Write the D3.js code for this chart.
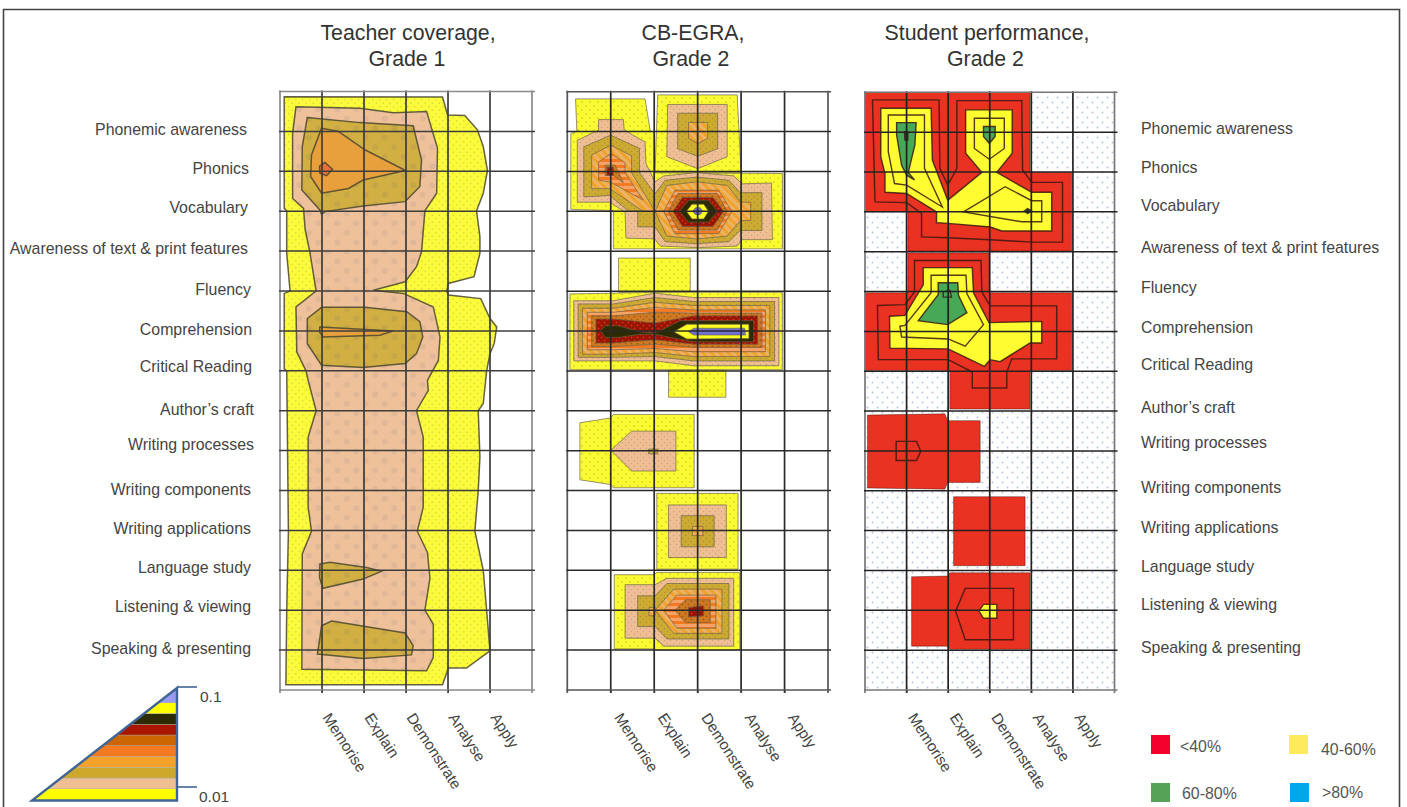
<!DOCTYPE html>
<html><head><meta charset="utf-8">
<script src="https://cdn.jsdelivr.net/npm/d3@7/dist/d3.min.js"></script>
<style>html,body{margin:0;padding:0;background:#fff;overflow:hidden}svg{display:block}text{font-family:"Liberation Sans",Arial,sans-serif}</style>
</head><body><svg id="c" width="1407" height="807"></svg>
<script>
// ---------- DATA (grid units: column = skill position, row = strand position) ----------
const strands = ["Phonemic awareness","Phonics","Vocabulary","Awareness of text & print features","Fluency","Comprehension","Critical Reading","Author’s craft","Writing processes","Writing components","Writing applications","Language study","Listening & viewing","Speaking & presenting"];
const skills = ["Memorise","Explain","Demonstrate","Analyse","Apply"];
const titles = [["Teacher coverage,","Grade 1"],["CB-EGRA,","Grade 2"],["Student performance,","Grade 2"]];
const bandLevels = [0,1,2,3,4,5,6,7,8,9];
const scaleTicks = [0.1,0.01];
const keyLabels = ["<40%","40-60%","60-80%",">80%"];

const teacherContours = [
 [0,[[.10,.13],[3.87,.14],[3.99,.59],[4.40,.60],[4.70,.96],[4.84,1.38],[4.94,1.98],[4.84,2.55],[4.68,2.99],[4.76,3.64],[4.76,4.06],[4.62,4.64],[4.01,4.81],[3.97,5.0],[4.01,5.10],[4.78,5.19],[5.0,5.69],[5.16,5.90],[5.10,6.32],[5.0,6.57],[4.92,7.0],[4.84,7.82],[4.72,8.0],[4.76,9.16],[4.72,10.0],[4.64,11.02],[4.84,12.0],[4.92,13.0],[5.0,14.02],[4.44,14.45],[4.01,14.45],[3.87,14.87],[.14,14.87],[.16,13],[.2,11.02],[.17,8],[.16,7.0],[.10,6.95],[.10,5.06],[.24,5.0],[.16,4.06],[.16,2.99],[.10,2.93]]],
 [1,[[.38,.38],[1.90,.42],[2.70,.53],[3.49,.50],[3.75,1.42],[3.73,2.55],[3.45,2.99],[3.37,4.02],[3.25,4.39],[2.98,4.77],[2.22,4.98],[2.94,5.06],[3.65,5.40],[3.81,6.15],[3.77,6.74],[3.51,7.24],[3.53,7.49],[3.25,8.0],[3.41,8.66],[3.41,10.42],[3.27,11.02],[3.51,11.55],[3.57,12.2],[3.45,13.0],[3.65,13.35],[3.65,14.19],[3.49,14.52],[.52,14.48],[.53,11.59],[.75,11.02],[.67,10.42],[.67,8.66],[.86,8.0],[.67,7.24],[.62,7.0],[.40,6.53],[.38,5.40],[.86,5.0],[.71,4.02],[.60,3.47],[.56,2.93],[.30,2.68],[.30,1.05]]],
 [2,[[.65,.65],[1.90,.78],[3.17,.86],[3.37,1.72],[3.33,2.38],[2.98,2.76],[1.98,2.87],[1.07,3.01],[.99,3.08],[.95,2.97],[.52,2.47],[.53,1.38]]],
 [3,[[.99,.92],[1.39,1.0],[2.02,1.46],[2.99,1.98],[1.98,2.22],[1.63,2.43],[.99,2.55],[.73,2.13],[.75,1.59]]],
 [4,[[.94,1.87],[1.07,1.78],[1.25,1.95],[1.11,2.11],[.95,2.05]]],
 [2,[[.99,5.41],[2.02,5.41],[3.02,5.52],[3.33,5.77],[3.40,6.15],[3.25,6.57],[2.98,6.82],[1.98,6.92],[.99,6.86],[.65,6.32],[.65,5.69]]],
 [3,[[.95,5.90],[2.70,6.0],[2.38,6.11],[1.03,6.15],[.94,6.03]]],
 [2,[[.95,11.84],[1.19,11.80],[2.06,11.93],[2.42,12.02],[1.98,12.22],[1.02,12.45],[.94,12.18]]],
 [2,[[.99,13.39],[1.23,13.27],[2.98,13.57],[3.17,13.89],[3.13,14.12],[1.98,14.21],[.89,14.10],[.94,13.76]]]
];

const egraContours = [
 [0,[[.19,.18],[1.79,.18],[1.91,.99],[2.01,1.01],[2.02,2.03],[4.95,2.05],[4.95,3.94],[1.06,3.94],[1.06,2.98],[.08,2.95],[.08,1.05],[.22,.99]]],
 [0,[[2.08,.08],[3.91,.08],[4.0,2.03],[2.02,2.03]]],
 [1,[[.72,.70],[1.29,.70],[1.31,.96],[1.79,1.26],[1.81,1.80],[2.02,2.26],[2.22,2.11],[2.98,2.03],[3.83,2.11],[4.02,2.31],[4.70,2.29],[4.72,3.71],[4.02,3.71],[3.91,3.87],[3.02,3.91],[2.14,3.87],[2.01,3.69],[1.35,3.67],[1.33,3.02],[.98,2.77],[.23,2.77],[.23,1.22],[.72,.96]]],
 [1,[[2.31,.32],[3.68,.32],[3.68,1.63],[3.0,1.93],[2.29,1.63]]],
 [2,[[2.54,.54],[3.46,.54],[3.46,1.43],[3.0,1.62],[2.54,1.43]]],
 [3,[[2.79,.77],[3.23,.77],[3.23,1.17],[3.0,1.30],[2.79,1.17]]],
 [2,[[.38,1.38],[1.0,1.09],[1.66,1.42],[1.66,2.03],[2.02,2.56],[2.25,2.22],[2.98,2.14],[3.72,2.22],[3.98,2.53],[4.48,2.53],[4.48,3.48],[3.98,3.48],[3.72,3.76],[2.98,3.81],[2.25,3.76],[2.02,3.39],[1.62,3.39],[1.62,3.0],[1.41,3.0],[.98,2.60],[.38,2.64]]],
 [3,[[.56,1.59],[1.0,1.34],[1.48,1.61],[1.48,2.03],[2.02,3.0],[2.29,2.35],[2.98,2.26],[3.68,2.35],[3.98,2.77],[4.22,2.77],[4.22,3.23],[3.98,3.23],[3.68,3.62],[2.98,3.69],[2.29,3.62],[2.02,3.0],[1.75,3.0],[.98,2.43],[.56,2.43]]],
 [4,[[.72,1.76],[1.0,1.55],[1.33,1.78],[1.33,2.03],[1.75,2.72],[.98,2.26],[.72,2.22]]],
 [5,[[.87,1.84],[1.10,1.84],[1.29,2.28],[1.06,2.10],[.87,2.10]]],
 [6,[[.91,1.89],[1.06,1.89],[1.06,2.10],[.91,2.10]]],
 [4,[[2.22,3],[2.48,2.47],[3.48,2.47],[3.79,3],[3.48,3.56],[2.48,3.56]]],
 [5,[[2.32,3],[2.55,2.55],[3.45,2.55],[3.68,3],[3.45,3.47],[2.55,3.47]]],
 [6,[[2.43,3],[2.65,2.65],[3.35,2.65],[3.6,3],[3.35,3.38],[2.65,3.38]]],
 [7,[[2.58,3],[2.79,2.72],[3.25,2.72],[3.46,3],[3.25,3.27],[2.79,3.27]]],
 [8,[[2.74,3],[2.87,2.82],[3.14,2.82],[3.25,3],[3.14,3.19],[2.87,3.19]]],
 [9,[[2.88,3],[2.95,2.91],[3.06,2.91],[3.12,3],[3.06,3.08],[2.95,3.08]]],
 [0,[[1.18,4.17],[2.83,4.17],[2.83,5.03],[1.18,5.03]]],
 [0,[[2.33,6.97],[3.65,6.97],[3.65,7.66],[2.33,7.66]]],
 [0,[[.06,5.07],[2.02,5.03],[4.95,5.03],[4.95,6.97],[.06,6.97]]],
 [1,[[.15,5.24],[1.06,5.24],[2.02,5.05],[2.91,5.16],[4.87,5.16],[4.87,6.87],[2.91,6.87],[2.02,6.75],[1.06,6.75],[.15,6.75]]],
 [2,[[.25,5.32],[1.06,5.32],[2.02,5.16],[2.91,5.26],[4.77,5.26],[4.77,6.75],[2.91,6.75],[2.02,6.64],[1.06,6.66],[.25,6.66]]],
 [3,[[.35,5.43],[1.06,5.43],[2.02,5.28],[2.91,5.36],[4.66,5.36],[4.66,6.64],[2.91,6.64],[2.02,6.54],[1.06,6.58],[.35,6.58]]],
 [4,[[.46,5.53],[1.06,5.53],[2.02,5.41],[2.91,5.47],[4.56,5.47],[4.56,6.52],[2.91,6.52],[2.02,6.44],[1.06,6.47],[.46,6.47]]],
 [5,[[.56,5.62],[1.06,5.62],[2.02,5.53],[2.91,5.55],[4.48,5.55],[4.48,6.41],[2.91,6.41],[2.02,6.33],[1.06,6.39],[.56,6.39]]],
 [6,[[.66,5.70],[1.06,5.70],[2.02,5.80],[2.91,5.62],[4.38,5.62],[4.38,6.33],[2.91,6.33],[2.02,6.22],[1.06,6.30],[.66,6.30]]],
 [7,[[.77,5.99],[.87,5.87],[1.18,5.87],[1.68,6.02],[1.98,6.05],[2.14,5.99],[2.60,5.74],[4.29,5.74],[4.29,6.27],[2.91,6.27],[2.37,6.16],[2.02,6.08],[1.68,6.08],[1.18,6.16],[.87,6.16]]],
 [8,[[2.45,6.02],[2.75,5.83],[4.18,5.83],[4.18,6.19],[2.75,6.20]]],
 [9,[[2.79,6.02],[2.91,5.93],[4.08,5.93],[4.10,6.10],[2.91,6.10]]],
 [0,[[.29,8.30],[1.0,8.18],[1.06,8.09],[2.92,8.09],[2.92,9.93],[1.06,9.93],[1.0,9.85],[.29,9.73]]],
 [1,[[1.0,8.99],[1.48,8.51],[2.5,8.51],[2.5,9.51],[1.48,9.51]]],
 [2,[[1.87,8.96],[2.08,8.96],[2.08,9.08],[1.87,9.08]]],
 [0,[[2.06,10.07],[3.93,10.07],[3.93,11.97],[2.06,11.97]]],
 [1,[[2.33,10.36],[3.66,10.36],[3.66,11.68],[2.33,11.68]]],
 [2,[[2.62,10.63],[3.38,10.63],[3.38,11.41],[2.62,11.41]]],
 [3,[[2.88,10.90],[3.12,10.90],[3.12,11.13],[2.88,11.13]]],
 [0,[[1.08,12.11],[2.0,12.11],[2.06,12.05],[3.97,12.05],[3.97,14.0],[2.06,14.0],[2.0,13.97],[1.08,13.97]]],
 [1,[[1.33,12.36],[2.02,12.36],[2.29,12.2],[3.83,12.2],[3.83,13.9],[2.22,13.9],[2.02,13.70],[1.33,13.70]]],
 [2,[[1.62,12.64],[2.02,12.64],[2.29,12.33],[3.72,12.33],[3.72,13.72],[2.29,13.72],[2.02,13.41],[1.62,13.41]]],
 [3,[[2.02,13],[2.45,12.47],[3.56,12.47],[3.56,13.58],[2.45,13.58]]],
 [3,[[1.88,12.93],[2.02,12.93],[2.02,13.14],[1.88,13.14]]],
 [4,[[2.22,13],[2.52,12.62],[3.42,12.62],[3.42,13.45],[2.52,13.45]]],
 [5,[[2.48,13],[2.72,12.74],[3.29,12.74],[3.29,13.31],[2.72,13.31]]],
 [6,[[2.79,12.93],[3.14,12.89],[3.14,13.14],[2.79,13.17]]]
];

// student levels: 10 red, 11 yellow, 12 green, 13 dark green, 14 outline only
const studentContours = [
 [10,[[0,0],[3.97,0],[3.97,2.01],[4.97,2.01],[4.97,3.98],[1.03,3.98],[1.03,3.0],[0,3.0]]],
 [14,[[.18,.19],[1.78,.19],[1.80,1.91],[1.99,2.33],[2.21,1.91],[2.21,.21],[3.77,.21],[3.79,1.95],[4.01,2.26],[4.75,2.26],[4.75,3.76],[4.01,3.76],[3.01,3.70],[2.0,3.65],[1.36,3.63],[1.36,3.04],[1.0,2.77],[.24,2.75]]],
 [11,[[.38,.40],[1.59,.40],[1.62,1.70],[1.99,2.71],[2.81,2.01],[2.42,1.53],[2.42,.44],[3.54,.44],[3.54,1.53],[3.17,2.01],[4.01,2.51],[4.49,2.51],[4.49,3.48],[4.01,3.48],[3.29,3.48],[3.01,3.38],[2.0,3.29],[1.72,3.27],[1.72,3.0],[1.0,2.54],[.48,2.51],[.48,2.04],[.38,1.62]]],
 [14,[[.56,.57],[1.43,.57],[1.43,1.91],[1.86,2.88],[1.0,2.33],[.71,2.29],[.56,1.49]]],
 [14,[[2.63,.65],[3.35,.65],[3.35,1.41],[2.99,1.68],[2.63,1.41]]],
 [14,[[2.37,3.0],[3.37,2.37],[4.01,2.72],[4.25,2.72],[4.25,3.25],[3.77,3.25]]],
 [12,[[.76,.76],[1.23,.76],[1.20,1.32],[1.04,2.01],[1.19,2.20],[1.0,2.08],[.88,1.83],[.76,1.07]]],
 [13,[[.95,.99],[1.03,.99],[1.03,1.2],[.96,1.2]]],
 [12,[[2.85,.86],[3.13,.86],[3.13,1.11],[2.99,1.28],[2.85,1.11]]],
 [13,[[3.83,2.98],[3.91,2.92],[4.01,2.98],[3.91,3.04]]],
 [10,[[1.03,4.03],[2.98,4.03],[2.98,5.03],[4.97,5.03],[4.97,6.98],[3.97,6.98],[3.97,7.95],[2.04,7.95],[2.04,6.98],[0,6.98],[0,5.03],[1.03,5.03]]],
 [14,[[1.19,4.22],[2.79,4.22],[2.81,5.01],[3.01,5.36],[4.61,5.36],[4.61,6.69],[3.53,6.69],[3.41,7.02],[3.41,7.42],[2.58,7.42],[2.58,7.02],[2.0,6.71],[.32,6.71],[.30,5.35],[.96,5.33],[1.19,5.01]]],
 [11,[[1.40,4.40],[2.58,4.40],[2.61,5.03],[2.98,5.78],[4.25,5.75],[4.25,6.29],[3.97,6.29],[3.25,6.76],[3.01,6.71],[2.87,6.88],[2.0,6.44],[.60,6.42],[.59,5.62],[.96,5.60],[1.40,4.83]]],
 [14,[[1.59,4.59],[2.43,4.59],[2.45,5.05],[2.85,5.83],[2.41,6.37],[2.0,6.19],[.88,6.14],[.84,5.87],[.96,5.85],[1.59,5.03]]],
 [12,[[1.76,4.78],[2.23,4.78],[2.25,5.10],[2.45,5.53],[1.99,5.83],[1.28,5.73],[1.76,5.08]]],
 [14,[[1.88,5.01],[2.04,4.97],[2.08,5.14],[1.88,5.14]]],
 [10,[[.06,8.10],[1.92,8.07],[1.99,8.24],[2.77,8.24],[2.77,9.79],[1.99,9.79],[1.92,9.96],[.06,9.93]]],
 [14,[[.75,8.76],[1.24,8.76],[1.34,9.01],[1.24,9.24],[.75,9.24]]],
 [10,[[2.13,10.15],[3.85,10.15],[3.85,11.88],[2.13,11.88]]],
 [10,[[1.12,12.16],[1.99,12.14],[2.04,12.06],[3.97,12.06],[3.97,13.98],[2.04,13.98],[1.99,13.90],[1.12,13.90]]],
 [14,[[2.18,13.02],[2.41,12.45],[3.57,12.45],[3.57,13.74],[2.41,13.74]]],
 [11,[[2.74,13.02],[2.85,12.85],[3.17,12.85],[3.17,13.20],[2.85,13.20]]]
];

// ---------- LAYOUT & STYLE ----------
const panels = [
 {x:[280,532],y:[91.5,690],data:teacherContours,kind:"a",titleX:[408,407],grid:"#3c3c3c",frame:"#8a8a8a",tickDx:4},
 {x:[567.3,828],y:[91.7,690],data:egraContours,kind:"b",titleX:[693,691],grid:"#2a2a2a",frame:"#555",tickDx:7},
 {x:[865,1114.5],y:[92.3,690],data:studentContours,kind:"c",titleX:[987,985.5],grid:"#222",frame:"#777",tickDx:5}
];
const leftLabelRight=[247,249,248,248,251,252,252,254,254,251,251,251,251,251];
const leftLabelY=[129,168,207,248,289,329,366,409,444,489,528,567,606,648];
const rightLabelY=[128,167,205,247,287,327,364,407,442,487,527,566,604,647];
const bandColors=["#ffff00","#efbf93","#cda82c","#f2a22b","#f47a20","#cc6600","#a81400","#2e2b00","#ffff00","#9a9aee"];
const keyStyle=[{c:"#f4002c",sx:1151,sy:735,tx:1180,ty:746},{c:"#ffe95c",sx:1289,sy:735,tx:1321,ty:749},{c:"#54a356",sx:1151,sy:783,tx:1182,ty:793},{c:"#00a8ea",sx:1290,sy:783,tx:1322,ty:792}];

const svg=d3.select("#c");
const defs=svg.append("defs");
defs.append("filter").attr("id","soft").attr("x",-0.02).attr("y",-0.02).attr("width",1.04).attr("height",1.04)
  .append("feGaussianBlur").attr("stdDeviation",0.7);

function dots(id,size,bg,dot,r,op){
  const p=defs.append("pattern").attr("id",id).attr("patternUnits","userSpaceOnUse").attr("width",size).attr("height",size);
  p.append("rect").attr("width",size).attr("height",size).attr("fill",bg);
  [[size/4,size/4],[size*3/4,size*3/4]].forEach(d=>p.append("circle").attr("cx",d[0]).attr("cy",d[1]).attr("r",r).attr("fill",dot).attr("opacity",op));
}
function stripes(id,size,bg,c,rot){
  const p=defs.append("pattern").attr("id",id).attr("patternUnits","userSpaceOnUse").attr("width",size).attr("height",size).attr("patternTransform",`rotate(${rot})`);
  p.append("rect").attr("width",size).attr("height",size).attr("fill",bg);
  p.append("rect").attr("width",size).attr("height",size/2).attr("fill",c);
}
dots("a0",7,"#fbfb3a","#c4c44a",.8,.7);
dots("a1",19,"#efc19a","#dcb496",3,.7);
dots("a2",19,"#d2af42","#c0a348",3,.7);
dots("b0",8,"#fbfb30","#b0b030",.8,.8);
dots("b1",6,"#efbf93","#c09a80",.7,.8);
dots("b2",6,"#cdaa30","#a08a38",.7,.8);
stripes("b3",6,"#f2a22b","#eab468",45);
stripes("b4",6,"#f47a20","#f4a468",0);
dots("b5",6,"#d07a20","#a05a14",1,.9);
dots("b6",6,"#951200","#e83018",1,.9);
dots("cbg",10,"#ffffff","#a9bde3",.9,.9);

const fillFor={
 a:l=>["url(#a0)","url(#a1)","url(#a2)","#e8a03c","#e8703a"][l],
 b:l=>["url(#b0)","url(#b1)","url(#b2)","url(#b3)","url(#b4)","url(#b5)","url(#b6)","#2e2b00","#ffff20","#6f6fd8"][l],
 c:l=>({10:"#ea3020",11:"#fdfd30",12:"#46a858",13:"#0c5a30",14:"none"})[l]
};
const strokeFor={a:"#4a4630",b:"#6a6048",c:"#3a1a10"};
const strokeW={a:1.5,b:.8,c:1.4};

panels.forEach((P,pi)=>{
  const x=d3.scaleLinear().domain([0,6]).range(P.x);
  const y=d3.scaleLinear().domain([0,15]).range(P.y);
  const line=d3.line().x(d=>x(d[0])).y(d=>y(d[1])).curve(d3.curveLinearClosed);
  const g=svg.append("g");
  const art=g.append("g").attr("filter","url(#soft)");
  if(P.kind==="c") art.append("rect").attr("x",x(0)).attr("y",y(0)).attr("width",x(6)-x(0)).attr("height",y(15)-y(0)).attr("fill","url(#cbg)");
  art.selectAll("path.ct").data(P.data).join("path").attr("class","ct")
    .attr("d",d=>line(d[1])).attr("fill",d=>fillFor[P.kind](d[0]))
    .attr("stroke",strokeFor[P.kind]).attr("stroke-width",d=>P.kind==="c"&&d[0]===10?0.5:strokeW[P.kind]).attr("stroke-opacity",.85);
  // grid
  art.selectAll("line.v").data(d3.range(0,7)).join("line").attr("class","v")
    .attr("x1",d=>x(d)).attr("x2",d=>x(d)).attr("y1",y(0)-1).attr("y2",y(15)+3)
    .attr("stroke",d=>d===0||d===6?P.frame:P.grid).attr("stroke-width",1.7);
  art.selectAll("line.h").data(d3.range(0,16)).join("line").attr("class","h")
    .attr("x1",x(0)-1).attr("x2",x(6)+3).attr("y1",d=>y(d)).attr("y2",d=>y(d))
    .attr("stroke",d=>d===0||d===15?P.frame:P.grid).attr("stroke-width",1.5);
  // skill axis
  const ax=g.append("g").attr("transform",`translate(0,${y(15)})`)
    .call(d3.axisBottom(x).tickValues(d3.range(1,6)).tickSize(3).tickFormat(d=>skills[d-1]));
  ax.select(".domain").remove();
  ax.selectAll("line").attr("stroke","#444");
  ax.selectAll("text").attr("x",0).attr("y",0).attr("dy","0.35em")
    .attr("transform",`translate(${P.tickDx},24.5) rotate(57)`).attr("text-anchor","start")
    .attr("font-size",15.2).attr("font-family",'"Liberation Sans",Arial,sans-serif').attr("fill","#444");
  // title
  titles[pi].forEach((t,i)=>g.append("text").attr("x",P.titleX[i]).attr("y",i?66:40).attr("text-anchor","middle")
    .attr("font-size",21.3).attr("fill","#333").text(t));
});

// strand labels
svg.selectAll("text.sl").data(strands).join("text").attr("class","sl")
  .attr("x",(d,i)=>leftLabelRight[i]).attr("y",(d,i)=>leftLabelY[i]).attr("dy","0.35em").attr("text-anchor","end")
  .attr("font-size",15.9).attr("fill","#444").text(d=>d);
svg.selectAll("text.sr").data(strands).join("text").attr("class","sr")
  .attr("x",1141).attr("y",(d,i)=>rightLabelY[i]).attr("dy","0.35em")
  .attr("font-size",15.9).attr("fill","#444").text(d=>d);

// triangular colour scale
const apex=[177,688], tl=[32,800.5], tr=[177,800.5];
defs.append("clipPath").attr("id","tri").append("polygon").attr("points",[apex,tl,tr].join(" "));
const by=d3.scaleLinear().domain([0,10]).range([799.5,692]);
const tg=svg.append("g").attr("filter","url(#soft)");
tg.append("g").attr("clip-path","url(#tri)").selectAll("rect").data(bandLevels).join("rect")
  .attr("x",tl[0]).attr("width",tr[0]-tl[0]).attr("y",d=>d===9?apex[1]:by(d+1)).attr("height",d=>d===9?by(9)-apex[1]:by(d)-by(d+1)+(d===0?2:0))
  .attr("fill",d=>bandColors[d]).attr("stroke","#aaa").attr("stroke-width",.4);
tg.append("polygon").attr("points",[apex,tl,tr].join(" ")).attr("fill","none").attr("stroke","#3f6595").attr("stroke-width",2.4);
const ls=d3.scaleLog().domain([0.01,0.1]).range([787,687]);
tg.selectAll("line.t").data(scaleTicks).join("line").attr("class","t")
  .attr("x1",177).attr("x2",197).attr("y1",d=>ls(d)).attr("y2",d=>ls(d)).attr("stroke","#3f6595").attr("stroke-width",1.6);
svg.selectAll("text.t").data(scaleTicks).join("text").attr("class","t")
  .attr("x",(d,i)=>i?199:200).attr("y",d=>ls(d)+10).attr("dy","0.35em").attr("font-size",15.5).attr("fill","#444").text(d=>d);

// performance key
keyLabels.forEach((t,i)=>{
  const s=keyStyle[i];
  svg.append("rect").attr("x",s.sx).attr("y",s.sy).attr("width",19).attr("height",19).attr("fill",s.c);
  svg.append("text").attr("x",s.tx).attr("y",s.ty).attr("dy","0.35em").attr("font-size",15.9).attr("fill","#555").text(t);
});

// outer border
svg.append("path").attr("d","M3.5,807V9.5H1399.5V807").attr("fill","none").attr("stroke","#444").attr("stroke-width",1.6);
</script></body></html>
